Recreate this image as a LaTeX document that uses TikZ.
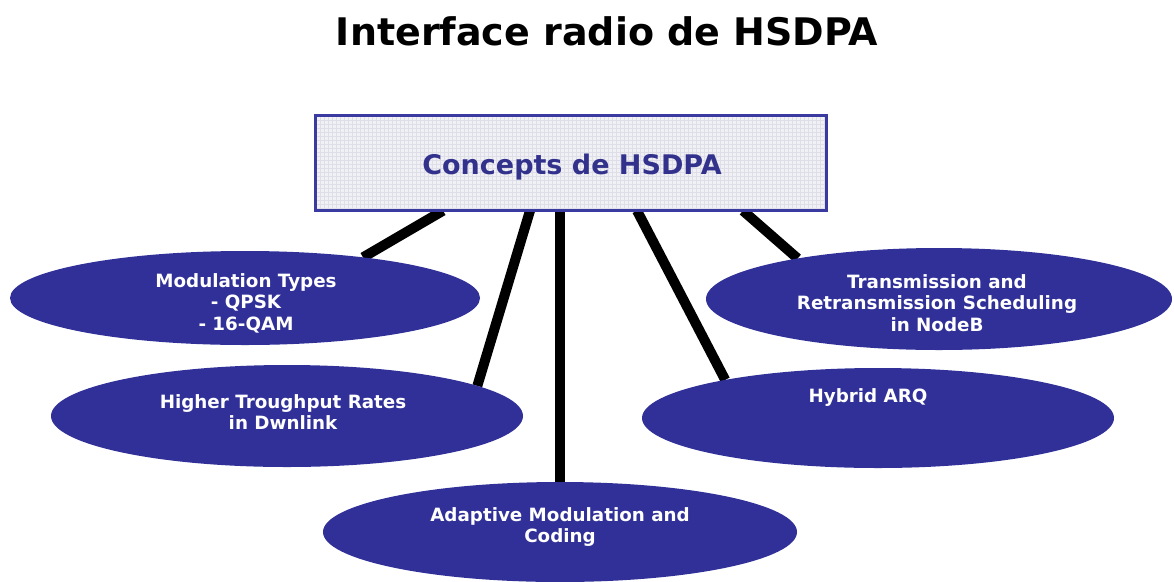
\documentclass[tikz,border=0pt]{standalone}
\usepackage{fontspec}
\setmainfont{DejaVu Sans}
\usetikzlibrary{shapes.geometric,backgrounds}
\definecolor{blobfill}{RGB}{48,48,152}
\definecolor{boxfill}{RGB}{240,240,245}
\definecolor{boxgrid}{RGB}{222,222,232}
\definecolor{boxedge}{RGB}{58,58,160}
\definecolor{boxtext}{RGB}{50,50,140}
\begin{document}
\begin{tikzpicture}[x=1pt,y=-1pt,
  blob/.style={ellipse, fill=blobfill, inner sep=0pt, outer sep=0pt},
  blobtext/.style={text=white, font=\fontsize{18.3}{21.5}\selectfont\bfseries, align=center},
  link/.style={line width=10pt, black}]
\useasboundingbox (0,0) rectangle (1174,581);

% title
\node[font=\fontsize{38}{40}\selectfont\bfseries, anchor=base] (title) at (607,45) {Interface radio de HSDPA};

% central box with a fine grid
\node[fill=boxfill, minimum width=511pt, minimum height=95pt, inner sep=0pt] (box) at (571,163) {};
\begin{scope}
  \clip (box.south west) rectangle (box.north east);
  \draw[boxgrid, line width=0.3pt, step=4pt] (box.south west) grid (box.north east);
\end{scope}
\draw[boxedge, line width=3pt] (box.south west) rectangle (box.north east);
\node[text=boxtext, font=\fontsize{27}{30}\selectfont\bfseries, anchor=base] (boxlabel) at (572,174) {Concepts de HSDPA};

% concept ellipses
\node[blob, minimum width=470pt, minimum height=94pt] (mod) at (245,298) {};
\node[blob, minimum width=472pt, minimum height=102pt] (high) at (287,416) {};
\node[blob, minimum width=466pt, minimum height=102pt] (trans) at (939,299) {};
\node[blob, minimum width=472pt, minimum height=100pt] (hyb) at (878,418) {};
\node[blob, minimum width=474pt, minimum height=100pt] (adapt) at (560,532) {};

\node[blobtext] (modtext) at (246,303) {Modulation Types\\- QPSK\\- 16-QAM};
\node[blobtext] (hightext) at (283,412) {Higher Troughput Rates\\in Dwnlink};
\node[blobtext] (transtext) at (937,303) {Transmission and\\Retransmission Scheduling\\in NodeB};
\node[blobtext] (hybtext) at (868,398) {Hybrid ARQ};
\node[blobtext] (adapttext) at (560,527) {Adaptive Modulation and\\Coding};

% connectors
\begin{scope}[on background layer]
  \draw[link] ([xshift=-128pt]box.south) -- (mod.19);
  \draw[link] ([xshift=-41pt]box.south) -- (high.9);
  \draw[link] (box.south -| adapt.north) -- (adapt.north);
  \draw[link] ([xshift=66pt]box.south) -- (hyb.166.5);
  \draw[link] ([xshift=172pt]box.south) -- (trans.164);
\end{scope}
\end{tikzpicture}
\end{document}
